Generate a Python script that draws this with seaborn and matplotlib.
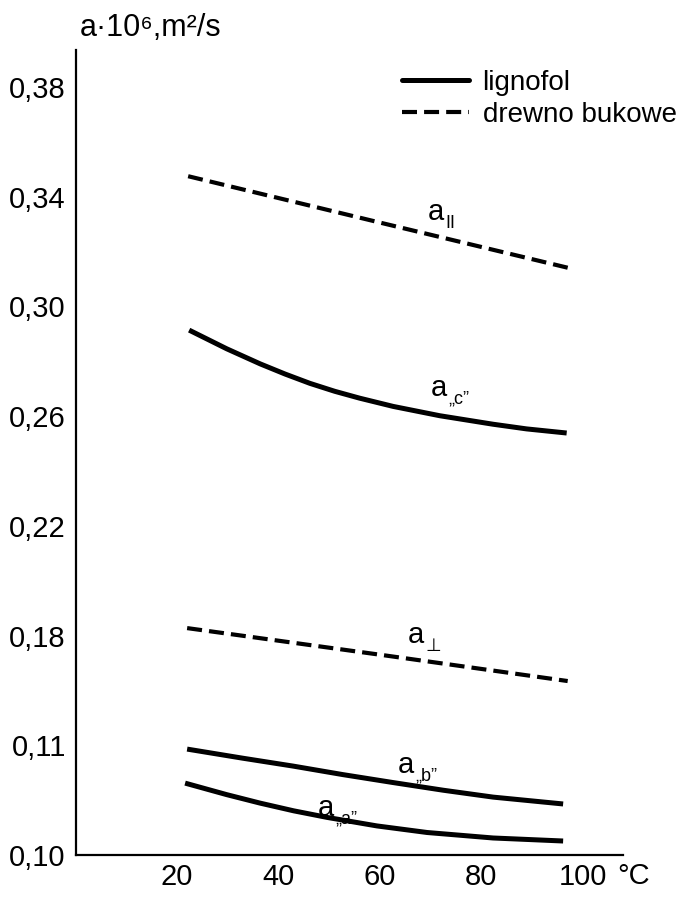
import matplotlib
matplotlib.use('Agg')
import matplotlib.pyplot as plt
import seaborn as sns
import pandas as pd
from matplotlib.lines import Line2D

# ---- data ----
t_par = [22.2, 60.0, 98.0]
a_par = [0.3474, 0.3305, 0.3136]
t_perp = [22.0, 60.0, 97.0]
a_perp = [0.1827, 0.1730, 0.1634]
t_c = [22.4, 29.8, 36.4, 41.3, 46.2, 51.1, 56.0, 62.6, 71.8, 82.3, 88.9, 96.8]
a_c = [0.2913, 0.2845, 0.2790, 0.2753, 0.2719, 0.2690, 0.2665, 0.2635, 0.2601, 0.2570, 0.2553, 0.2538]
t_b = [22.0, 32.9, 42.9, 52.7, 62.6, 72.5, 82.3, 96.1]
a_b = [0.1386, 0.1353, 0.1324, 0.1293, 0.1264, 0.1236, 0.1211, 0.1186]
t_a = [21.6, 29.8, 36.4, 43.0, 49.6, 59.4, 69.3, 82.3, 96.1]
a_a = [0.1262, 0.1220, 0.1189, 0.1161, 0.1137, 0.1106, 0.1082, 0.1062, 0.1051]

x_ticks = [20, 40, 60, 80, 100]
y_ticks = [0.10, 0.14, 0.18, 0.22, 0.26, 0.30, 0.34, 0.38]
y_tick_labels = ['0,10', '0,11', '0,18', '0,22', '0,26', '0,30', '0,34', '0,38']

series = [
    ('par', 'drewno bukowe', t_par, a_par),
    ('perp', 'drewno bukowe', t_perp, a_perp),
    ('c', 'lignofol', t_c, a_c),
    ('b', 'lignofol', t_b, a_b),
    ('a', 'lignofol', t_a, a_a),
]
rows = []
for name, mat, ts, vs in series:
    for t, v in zip(ts, vs):
        rows.append({'curve': name, 'material': mat, 't': t, 'a': v})
df = pd.DataFrame(rows)

sns.set_theme(style='white')
plt.rcParams['font.family'] = ['Liberation Sans', 'DejaVu Sans']

fig = plt.figure(figsize=(6.86, 8.99), dpi=100)
ax = fig.add_axes([75.5 / 686, 1 - 855 / 899, (623 - 75.5) / 686, (855 - 50) / 899])

DASH = (3.6, 1.7)
for name, mat, ts, vs in series:
    sub = df[df['curve'] == name]
    if mat == 'lignofol':
        sns.lineplot(data=sub, x='t', y='a', ax=ax, color='black', lw=3.6,
                     estimator=None, sort=True, legend=False,
                     solid_capstyle='butt', solid_joinstyle='round')
    else:
        sns.lineplot(data=sub, x='t', y='a', ax=ax, color='black', lw=3.0,
                     estimator=None, sort=True, legend=False, dashes=False,
                     linestyle=(0, DASH))

ax.set_xlim(0, 107.9)
ax.set_ylim(0.10, 0.3934)
ax.set_xticks(x_ticks)
ax.set_xticklabels([str(v) for v in x_ticks])
ax.set_yticks(y_ticks)
ax.set_yticklabels(y_tick_labels)
ax.set_xlabel('')
ax.set_ylabel('')
for s in ['top', 'right']:
    ax.spines[s].set_visible(False)
for s in ['left', 'bottom']:
    ax.spines[s].set_color('black')
    ax.spines[s].set_linewidth(1.6)
ax.tick_params(axis='both', direction='in', length=12, width=1.5, colors='black',
               labelsize=21, labelcolor='black')
ax.tick_params(axis='y', pad=7)
ax.tick_params(axis='x', pad=6)
ax.grid(False)

# curve labels
lab_fs = 21
sub_fs = 13
def curve_label(x, y, sub):
    ax.text(x, y, 'a', fontsize=lab_fs, ha='center', va='center', color='black')
    ax.annotate(sub, xy=(x, y), xytext=(7, -8), textcoords='offset points',
                fontsize=sub_fs, ha='left', va='center', color='black')

curve_label(71.0, 0.3343, 'II')
curve_label(71.6, 0.2702, '\u201ec\u201d')
curve_label(67.1, 0.1802, '\u22a5')
curve_label(65.1, 0.1328, '\u201eb\u201d')
curve_label(49.3, 0.1171, '\u201ea\u201d')

# unit label and axis end label
fig.text(80 / 686, 1 - 28 / 899, 'a\u00b710\u2076,m\u00b2/s', fontsize=22,
         ha='left', va='center', color='black')
fig.text(617 / 686, 1 - 876 / 899, '\u00b0C', fontsize=21, ha='left', va='center',
         color='black')

handles = [Line2D([], [], color='black', lw=3.6),
           Line2D([], [], color='black', lw=3.0, linestyle=(0, DASH))]
leg = fig.legend(handles, ['lignofol', 'drewno bukowe'], loc='upper left',
                 bbox_to_anchor=(402 / 686, 1 - 70 / 899), frameon=False,
                 fontsize=20, handlelength=2.4, handletextpad=0.5,
                 labelspacing=0.22, borderpad=0, borderaxespad=0)
for t in leg.get_texts():
    t.set_color('black')

fig.savefig('out.png', dpi=100)
